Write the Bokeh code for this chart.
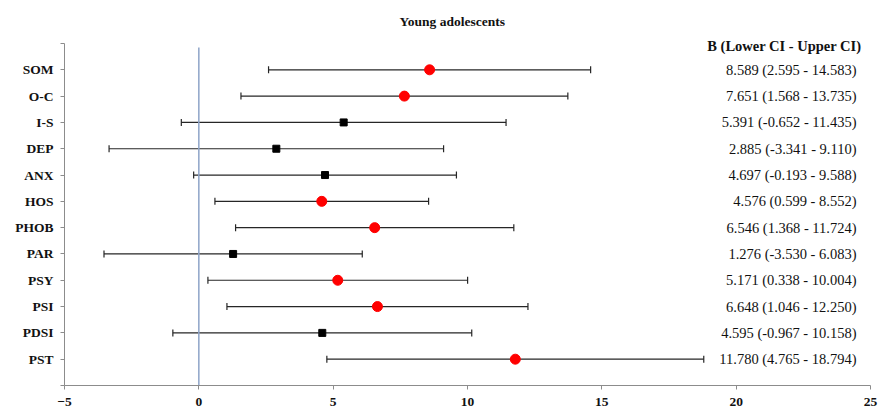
from bokeh.plotting import figure
from bokeh.models import Range1d, FixedTicker, Whisker, ColumnDataSource, TeeHead, Title, Label
from bokeh.core.properties import value
from bokeh.embed import file_html
from bokeh.resources import INLINE

categories = ["SOM", "O-C", "I-S", "DEP", "ANX", "HOS", "PHOB", "PAR", "PSY", "PSI", "PDSI", "PST"]
b_values = [8.589, 7.651, 5.391, 2.885, 4.697, 4.576, 6.546, 1.276, 5.171, 6.648, 4.595, 11.780]
lower_ci = [2.595, 1.568, -0.652, -3.341, -0.193, 0.599, 1.368, -3.530, 0.338, 1.046, -0.967, 4.765]
upper_ci = [14.583, 13.735, 11.435, 9.110, 9.588, 8.552, 11.724, 6.083, 10.004, 12.250, 10.158, 18.794]
x_ticks = [-5, 0, 5, 10, 15, 20, 25]
header_text = "B (Lower CI - Upper CI)"
title_text = "Young adolescents"

FONT = "Liberation Serif"
n = len(categories)
ypos = [n - i for i in range(n)]
labels = [f"{b:.3f} ({lo:.3f} - {up:.3f})" for b, lo, up in zip(b_values, lower_ci, upper_ci)]
sig = [lo > 0 for lo in lower_ci]

src = ColumnDataSource(dict(y=ypos, b=b_values, lo=lower_ci, up=upper_ci, lab=labels,
                            xr=[x_ticks[-1]] * n))
sig_src = ColumnDataSource(dict(y=[y for y, s in zip(ypos, sig) if s],
                                b=[v for v, s in zip(b_values, sig) if s]))
ns_src = ColumnDataSource(dict(y=[y for y, s in zip(ypos, sig) if not s],
                               b=[v for v, s in zip(b_values, sig) if not s]))

AXIS_H = 342          # pixel height of the drawn y axis (0 .. n+1)
FRAME_H = 355         # frame a bit taller so the header text is not clipped
y_top = (n + 1) * FRAME_H / AXIS_H

p = figure(frame_width=806, frame_height=FRAME_H,
           x_range=Range1d(x_ticks[0], x_ticks[-1]), y_range=Range1d(0, y_top),
           output_backend="svg", toolbar_location=None,
           min_border_left=64, min_border_right=8, min_border_top=30, min_border_bottom=24)
p.outline_line_color = None
p.xgrid.grid_line_color = None
p.ygrid.grid_line_color = None
p.background_fill_color = "white"
p.border_fill_color = "white"

p.title = Title(text=title_text, align="left", offset=335, standoff=4, text_font=FONT,
                text_font_style="bold", text_font_size="13.5px", text_color="#111111")

# x axis
xa = p.xaxis[0]
xa.ticker = FixedTicker(ticks=x_ticks)
xa.axis_line_color = "#8c8c8c"
xa.major_tick_line_color = "#8c8c8c"
xa.major_tick_out = 4
xa.major_tick_in = 0
xa.minor_tick_line_color = None
xa.major_label_text_font = FONT
xa.major_label_text_font_style = "bold"
xa.major_label_text_font_size = "13.5px"
xa.major_label_text_color = "#111111"
xa.major_label_standoff = 8

# y axis
ya = p.yaxis[0]
ya.bounds = (0, n + 1)
ya.ticker = FixedTicker(ticks=list(range(0, n + 2)))
overrides = {0: "", n + 1: ""}
for y, c in zip(ypos, categories):
    overrides[y] = c
ya.major_label_overrides = overrides
ya.axis_line_color = "#8c8c8c"
ya.major_tick_line_color = "#8c8c8c"
ya.major_tick_out = 4
ya.major_tick_in = 0
ya.minor_tick_line_color = None
ya.major_label_text_font = FONT
ya.major_label_text_font_style = "bold"
ya.major_label_text_font_size = "13.5px"
ya.major_label_text_color = "#111111"
ya.major_label_standoff = 7

# reference line at 0
p.segment(x0=[0], y0=[0], x1=[0], y1=[n + 1 - 0.15], line_color="#8EA4C8", line_width=1.5)

# CI whiskers
wh = Whisker(source=src, base="y", lower="lo", upper="up", dimension="width",
             line_color="#262626", line_width=1.2,
             upper_head=TeeHead(size=7, line_color="#262626", line_width=1.2),
             lower_head=TeeHead(size=7, line_color="#262626", line_width=1.2))
p.add_layout(wh)

p.scatter(x="b", y="y", source=sig_src, marker="circle", size=10,
          fill_color="#FF0000", line_color="#FF0000")
p.scatter(x="b", y="y", source=ns_src, marker="square", size=7,
          fill_color="#000000", line_color="#000000")

# value column
p.text(x="xr", y="y", text="lab", source=src, x_offset=-14, text_align="right",
       text_baseline="middle", text_font=value(FONT), text_font_size="14.5px",
       text_color="#111111")

p.add_layout(Label(x=x_ticks[-1], y=n + 1, x_offset=-9, y_offset=-2, text=header_text,
                   text_align="right", text_baseline="middle", text_font=FONT,
                   text_font_style="bold", text_font_size="14.5px", text_color="#111111"))

open("out.html", "w").write(file_html(p, INLINE))
